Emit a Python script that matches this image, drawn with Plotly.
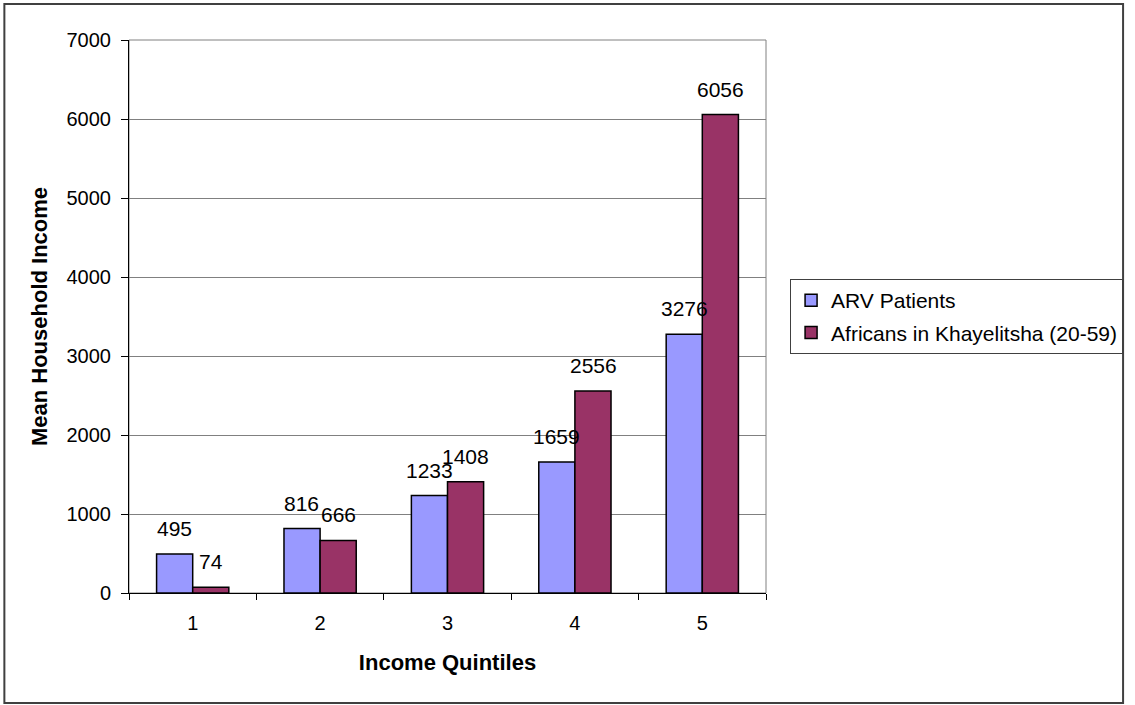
import plotly.graph_objects as go

quintiles = ["1", "2", "3", "4", "5"]
arv_patients = [495, 816, 1233, 1659, 3276]
africans_khayelitsha = [74, 666, 1408, 2556, 6056]
series_names = ["ARV Patients", "Africans in Khayelitsha (20-59)"]
y_ticks = [0, 1000, 2000, 3000, 4000, 5000, 6000, 7000]

FONT = "Arial, Liberation Sans, sans-serif"
BLUE = "#9999FF"
MAROON = "#993366"

W, H = 1135, 705
L, R, T, B = 129, 362, 40, 112
pw = W - L - R
ph = H - T - B

def px_x(p):
    return (p - L) / pw

def px_y(p):
    return (H - B - p) / ph

fig = go.Figure()
fig.add_trace(go.Bar(x=quintiles, y=arv_patients, name=series_names[0],
                     marker=dict(color=BLUE, line=dict(color="black", width=1.5)),
                     legendgroup="a"))
fig.add_trace(go.Bar(x=quintiles, y=africans_khayelitsha, name=series_names[1],
                     marker=dict(color=MAROON, line=dict(color="black", width=1.5)),
                     legendgroup="b"))

bargap = 0.433
bar_w = (1 - bargap) * pw / len(quintiles) / 2
annotations = []
for vals, sh in ((arv_patients, -bar_w / 2), (africans_khayelitsha, bar_w / 2)):
    for i, v in enumerate(vals):
        annotations.append(dict(x=i, y=v, text=str(v), showarrow=False,
                                xref="x", yref="y", yanchor="bottom",
                                xshift=sh, yshift=12,
                                font=dict(family=FONT, size=21, color="black")))

fig.update_layout(
    width=W, height=H,
    margin=dict(l=L, r=R, t=T, b=B),
    paper_bgcolor="white", plot_bgcolor="white",
    barmode="group", bargap=bargap, bargroupgap=0,
    font=dict(family=FONT, size=20, color="black"),
    showlegend=True,
    legend=dict(x=px_x(1134), xanchor="right", y=px_y(279), yanchor="top",
                bordercolor="#404040", borderwidth=1, bgcolor="white",
                font=dict(family=FONT, size=21, color="black"),
                traceorder="grouped", tracegroupgap=2, itemwidth=30),
    annotations=annotations,
    xaxis=dict(
        type="category", showline=True, linecolor="black", linewidth=1,
        range=[-0.5, len(quintiles) - 0.5],
        ticks="outside", ticklen=6, tickcolor="black", tickson="boundaries",
        ticklabelstandoff=12,
        tickfont=dict(family=FONT, size=20, color="black"),
        title=dict(text="<b>Income Quintiles</b>", standoff=21,
                   font=dict(family=FONT, size=22, color="black")),
        showgrid=False, zeroline=False,
    ),
    yaxis=dict(
        range=[0, 7000], tickvals=y_ticks, showline=True, linecolor="black",
        linewidth=1, ticks="outside", ticklen=7, tickcolor="black",
        ticklabelstandoff=6,
        tickfont=dict(family=FONT, size=20, color="black"),
        showgrid=True, gridcolor="#808080", gridwidth=1, zeroline=False,
        title=dict(text="<b>Mean Household Income</b>", standoff=12,
                   font=dict(family=FONT, size=22, color="black")),
    ),
    shapes=[
        dict(type="rect", xref="paper", yref="paper", x0=0, y0=0, x1=1, y1=1,
             line=dict(color="#808080", width=1), layer="below"),
        dict(type="rect", xref="paper", yref="paper",
             x0=px_x(3), y0=px_y(703), x1=px_x(1134), y1=px_y(4),
             line=dict(color="#404040", width=2), layer="below"),
    ],
)

fig.write_html("out.html")
